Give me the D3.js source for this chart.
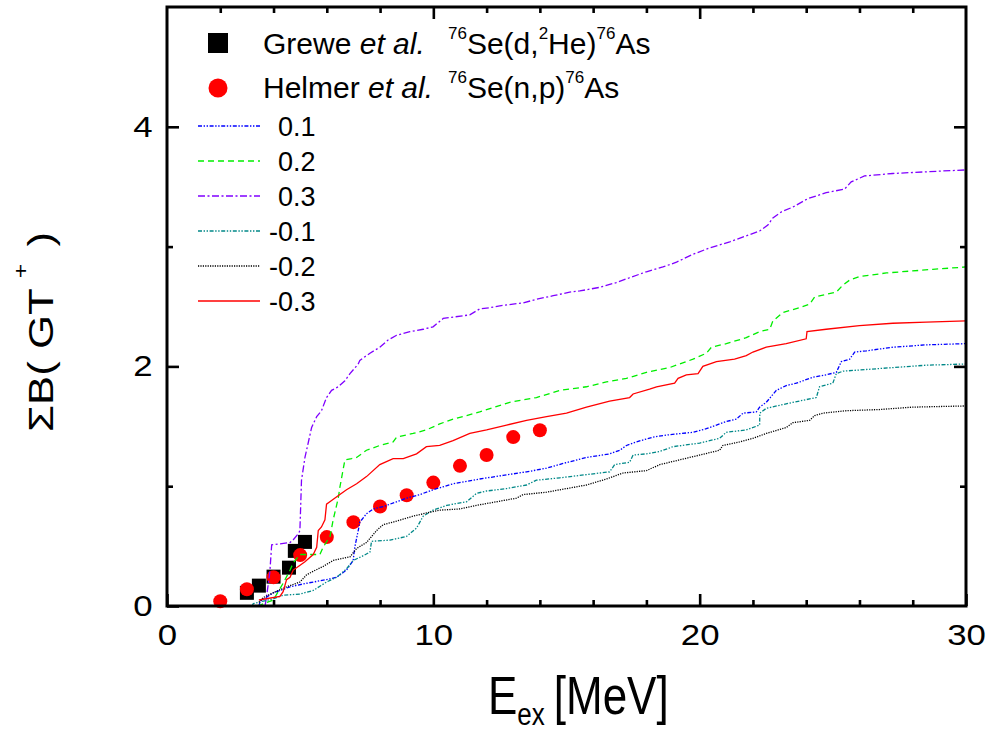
<!DOCTYPE html>
<html>
<head>
<meta charset="utf-8">
<script src="https://cdn.jsdelivr.net/npm/d3@7"></script>
<style>
  body { margin: 0; background: #fff; }
  svg { display: block; }
  text { font-family: "Liberation Sans", Arial, Helvetica, sans-serif; fill: #000; }
</style>
</head>
<body>
<svg id="chart" width="992" height="730"></svg>
<script>
// Measured GT+ strengths: excitation energy (MeV) and cumulative B(GT+)
const greweE  = [3.0, 3.45, 4.0, 4.58, 4.8, 5.18];
const greweB  = [0.11, 0.17, 0.245, 0.32, 0.46, 0.535];
const helmerE = [2, 3, 4, 5, 6, 7, 8, 9, 10, 11, 12, 13, 14];
const helmerB = [0.04, 0.14, 0.24, 0.425, 0.575, 0.70, 0.83, 0.925, 1.03, 1.17, 1.26, 1.41, 1.467];

// Calculated running sums for each deformation value, [E (MeV), sum B(GT+)]
const betaP01 = [[3.45,0],[3.5,0.04],[3.99,0.11],[4.62,0.16],[5.24,0.19],[5.99,0.22],[6.37,0.24],[6.74,0.30],[6.99,0.38],[7.05,0.49],[7.18,0.63],[7.24,0.70],[7.49,0.77],[7.74,0.81],[8.12,0.83],[8.62,0.87],[8.99,0.90],[9.49,0.93],[9.99,0.97],[10.74,1.02],[11.74,1.06],[12.62,1.09],[13.50,1.12],[14.25,1.15],[14.87,1.19],[15.75,1.24],[16.62,1.27],[17.00,1.30],[17.25,1.34],[17.62,1.37],[18.25,1.41],[18.87,1.43],[19.75,1.45],[20.25,1.48],[20.63,1.51],[21.00,1.54],[21.38,1.56],[21.63,1.61],[22.13,1.62],[22.25,1.66],[22.50,1.70],[22.88,1.80],[23.25,1.84],[23.63,1.86],[23.88,1.88],[24.25,1.91],[24.75,1.93],[25.13,1.95],[25.32,2.04],[25.63,2.06],[25.82,2.12],[26.26,2.13],[27.25,2.16],[28.51,2.18],[30,2.19]];
const betaP02 = [[3.40,0],[3.99,0.05],[4.36,0.19],[4.62,0.30],[4.74,0.36],[4.99,0.43],[5.74,0.43],[5.86,0.49],[6.12,0.58],[6.24,0.72],[6.43,0.90],[6.49,0.99],[6.68,1.22],[6.93,1.23],[7.12,1.24],[7.49,1.30],[7.99,1.34],[8.49,1.37],[8.62,1.41],[9.24,1.44],[9.74,1.47],[10.24,1.52],[10.74,1.56],[11.25,1.59],[11.74,1.62],[12.87,1.70],[13.87,1.74],[14.75,1.80],[15.75,1.83],[16.50,1.87],[17.25,1.90],[18.00,1.95],[18.87,1.99],[19.75,2.06],[20.25,2.11],[20.44,2.16],[21.00,2.19],[21.75,2.24],[22.25,2.29],[22.63,2.31],[22.75,2.38],[23.13,2.45],[23.75,2.49],[24.13,2.52],[24.32,2.58],[25.13,2.62],[25.38,2.68],[25.63,2.72],[26.00,2.75],[27.01,2.78],[28.75,2.81],[30,2.83]];
const betaP03 = [[3.68,0],[3.74,0.08],[3.86,0.28],[3.93,0.51],[4.62,0.53],[4.73,0.55],[4.95,0.61],[4.99,0.63],[5.05,1.05],[5.18,1.24],[5.43,1.49],[5.62,1.58],[5.80,1.63],[5.99,1.74],[6.18,1.80],[6.43,1.83],[6.68,1.88],[6.87,1.94],[7.18,2.02],[7.24,2.05],[7.62,2.11],[7.99,2.16],[8.30,2.22],[8.62,2.26],[9.12,2.29],[9.62,2.31],[9.99,2.33],[10.37,2.40],[10.68,2.41],[11.37,2.43],[11.74,2.48],[12.12,2.49],[12.62,2.51],[13.37,2.53],[13.87,2.56],[14.50,2.59],[15.12,2.62],[15.50,2.63],[16.25,2.66],[16.87,2.70],[17.37,2.74],[18.00,2.79],[18.62,2.83],[19.13,2.87],[19.69,2.93],[20.38,2.99],[21.13,3.04],[21.75,3.09],[22.25,3.13],[22.56,3.18],[22.75,3.24],[23.07,3.29],[23.50,3.33],[24.06,3.40],[24.75,3.45],[25.44,3.48],[25.69,3.54],[26.19,3.59],[27.25,3.61],[29.01,3.63],[30,3.64]];
const betaM01 = [[3.2,0],[3.24,0.02],[3.61,0.04],[3.99,0.06],[4.36,0.09],[4.99,0.10],[5.49,0.13],[5.99,0.20],[6.37,0.24],[6.74,0.31],[6.99,0.38],[7.37,0.42],[7.62,0.45],[7.68,0.54],[8.37,0.55],[8.99,0.58],[9.37,0.65],[9.62,0.75],[9.99,0.80],[10.50,0.84],[11.25,0.87],[11.62,0.94],[12.00,0.96],[12.75,0.98],[13.50,1.01],[13.87,1.05],[14.75,1.07],[15.50,1.09],[16.62,1.12],[16.81,1.18],[17.37,1.20],[17.50,1.26],[18.00,1.27],[18.50,1.29],[19.00,1.33],[20.00,1.36],[20.75,1.40],[21.00,1.45],[21.75,1.47],[22.25,1.51],[22.26,1.61],[22.50,1.65],[23.50,1.70],[24.38,1.74],[24.50,1.83],[25.00,1.86],[25.13,1.94],[25.38,1.96],[26.00,1.97],[27.25,1.99],[28.51,2.01],[30,2.02]];
const betaM02 = [[3.45,0.03],[3.61,0.07],[3.99,0.11],[4.49,0.16],[4.99,0.20],[5.24,0.26],[5.49,0.29],[5.86,0.33],[6.24,0.38],[6.87,0.41],[7.12,0.48],[7.49,0.53],[7.87,0.63],[8.12,0.68],[8.49,0.70],[9.24,0.75],[9.62,0.77],[10.24,0.80],[10.99,0.81],[11.62,0.84],[12.37,0.87],[13.12,0.90],[13.37,0.93],[14.25,0.95],[15.00,0.98],[15.75,1.01],[16.50,1.06],[17.12,1.11],[18.00,1.13],[18.50,1.18],[19.25,1.22],[20.00,1.26],[20.75,1.30],[20.87,1.34],[21.50,1.37],[22.00,1.40],[22.50,1.44],[23.25,1.49],[23.50,1.53],[24.13,1.55],[24.32,1.59],[24.63,1.61],[25.50,1.63],[26.75,1.64],[28.00,1.66],[30,1.67]];
const betaM03 = [[3.45,0.05],[4.24,0.08],[4.36,0.12],[4.49,0.22],[4.62,0.24],[4.74,0.30],[4.93,0.33],[5.18,0.37],[5.49,0.43],[5.62,0.49],[5.68,0.63],[5.80,0.66],[5.93,0.72],[5.99,0.85],[6.18,0.88],[6.49,0.93],[6.74,0.97],[7.12,1.02],[7.49,1.08],[7.99,1.18],[8.49,1.23],[8.87,1.23],[9.37,1.27],[9.74,1.33],[10.24,1.34],[10.74,1.38],[11.37,1.44],[12.00,1.47],[12.75,1.51],[13.50,1.55],[14.25,1.58],[15.00,1.61],[15.75,1.66],[16.62,1.71],[17.37,1.74],[17.50,1.77],[18.12,1.81],[18.38,1.83],[19.06,1.86],[19.19,1.90],[19.50,1.93],[19.94,1.94],[20.12,2.00],[20.63,2.04],[21.31,2.06],[21.75,2.09],[22.00,2.12],[22.50,2.16],[23.25,2.19],[24.00,2.23],[24.03,2.29],[24.75,2.31],[26.00,2.34],[27.25,2.36],[28.51,2.37],[30,2.38]];

const betaLabels = ["0.1", "0.2", "0.3", "-0.1", "-0.2", "-0.3"];
const xTickLabels = [0, 10, 20, 30];
const yTickLabels = [0, 2, 4];

// Line styles, in legend order
const curveData = [betaP01, betaP02, betaP03, betaM01, betaM02, betaM03];
const curveStyle = [
  { color: "#0000ff", dash: "4,1.6,1.4,1.6,1.4,1.6" },
  { color: "#00ee00", dash: "6,4" },
  { color: "#8000ff", dash: "7,2.5,2,2.5" },
  { color: "#008888", dash: "4,1.6,1.4,1.6,1.4,1.6" },
  { color: "#000000", dash: "1.2,1.2" },
  { color: "#ff0000", dash: null }
];

const svg = d3.select("#chart");
const L = 167, R = 966, T = 7, B = 606;
const x = d3.scaleLinear().domain([0, 30]).range([L, R]);
const y = d3.scaleLinear().domain([0, 5]).range([B, T]);

svg.append("defs").append("clipPath").attr("id", "plotArea")
  .append("rect").attr("x", L).attr("y", T).attr("width", R - L).attr("height", B - T);

// ---- axes: inward ticks on all four sides ----
function tickAxis(axis, pos, values, size, labels) {
  const g = svg.append("g").attr("transform", pos)
    .call(axis.tickValues(values).tickSizeInner(-size).tickSizeOuter(0)
      .tickFormat(labels ? d3.format("d") : () => ""));
  g.select(".domain").remove();
  g.selectAll(".tick line").attr("stroke", "#000").attr("stroke-width", 2.6);
  return g;
}
const minorX = d3.range(0, 31, 2).filter(v => v % 10 !== 0);
const minorY = [1, 3];

const gx = tickAxis(d3.axisBottom(x).tickPadding(18), `translate(0,${B})`, xTickLabels, 12, true);
tickAxis(d3.axisBottom(x), `translate(0,${B})`, minorX, 6, false);
tickAxis(d3.axisTop(x), `translate(0,${T})`, [10, 20], 12, false);
tickAxis(d3.axisTop(x), `translate(0,${T})`, minorX, 6, false);
const gy = tickAxis(d3.axisLeft(y).tickPadding(12), `translate(${L},0)`, yTickLabels, 12, true);
tickAxis(d3.axisLeft(y), `translate(${L},0)`, minorY, 6, false);
tickAxis(d3.axisRight(y), `translate(${R},0)`, [2, 4], 12, false);
tickAxis(d3.axisRight(y), `translate(${R},0)`, minorY, 6, false);

[gx, gy].forEach(g => g.selectAll(".tick text")
  .attr("font-size", 29).attr("font-family", "Liberation Sans, Arial, sans-serif")
  .attr("fill", "#000").attr("transform", "scale(1.2,1)"));

// ---- measured points ----
svg.append("g").selectAll("rect").data(greweE).join("rect")
  .attr("x", (d, i) => x(d) - 7).attr("y", (d, i) => y(greweB[i]) - 7)
  .attr("width", 14).attr("height", 14).attr("fill", "#000");
svg.append("g").selectAll("circle").data(helmerE).join("circle")
  .attr("cx", d => x(d)).attr("cy", (d, i) => y(helmerB[i])).attr("r", 7)
  .attr("fill", "#ff0000");

// ---- calculated curves ----
const line = d3.line().x(d => x(d[0])).y(d => y(d[1]));
const gLines = svg.append("g").attr("clip-path", "url(#plotArea)");
curveData.forEach((data, i) => {
  gLines.append("path").datum(data).attr("d", line)
    .attr("fill", "none").attr("stroke", curveStyle[i].color)
    .attr("stroke-width", 1.3)
    .attr("stroke-dasharray", curveStyle[i].dash);
});

// ---- frame ----
svg.append("rect").attr("x", L).attr("y", T).attr("width", R - L).attr("height", B - T)
  .attr("fill", "none").attr("stroke", "#000").attr("stroke-width", 3);

// ---- legend ----
const leg = svg.append("g");
leg.append("rect").attr("x", 208).attr("y", 33).attr("width", 20).attr("height", 20).attr("fill", "#000");
leg.append("circle").attr("cx", 218).attr("cy", 88).attr("r", 9.5).attr("fill", "#ff0000");

function reactionLabel(yBase, author, parts) {
  const t = leg.append("text").attr("x", 263).attr("y", yBase).attr("font-size", 30);
  t.append("tspan").text(author + " ");
  t.append("tspan").attr("font-style", "italic").text("et al.");
  let first = true;
  parts.forEach(p => {
    const s = t.append("tspan").text(p.t);
    if (first) { s.attr("x", 448); first = false; }
    if (p.sup) s.attr("font-size", 17).attr("dy", -15);
    else s.attr("dy", 15);
  });
  return t;
}
reactionLabel(53.5, "Grewe", [
  { t: "76", sup: true }, { t: "Se(d," }, { t: "2", sup: true }, { t: "He)" },
  { t: "76", sup: true }, { t: "As" }
]);
reactionLabel(97.5, "Helmer", [
  { t: "76", sup: true }, { t: "Se(n,p)" }, { t: "76", sup: true }, { t: "As" }
]);

betaLabels.forEach((lab, i) => {
  const cy = 126 + i * 35;
  leg.append("line").attr("x1", 198).attr("x2", 260).attr("y1", cy).attr("y2", cy)
    .attr("stroke", curveStyle[i].color).attr("stroke-width", 1.3)
    .attr("stroke-dasharray", curveStyle[i].dash);
  const t = leg.append("text").attr("y", cy + 10).attr("font-size", 27).text(lab);
  let x0 = 278;
  if (lab.startsWith("-")) {
    const m = leg.append("text").attr("font-size", 27).text("-");
    x0 -= m.node().getComputedTextLength();
    m.remove();
  }
  t.attr("x", x0);
});

// ---- axis titles ----
const xt = svg.append("text").attr("transform", "translate(488,714) scale(1,1.2)");
xt.append("tspan").attr("font-size", 44).text("E");
xt.append("tspan").attr("font-size", 26).attr("dy", 9).text("ex");
xt.append("tspan").attr("font-size", 44).attr("dx", 9).attr("dy", -9).text("[MeV]");

const yt = svg.append("text").attr("transform", "translate(53,432) rotate(-90) scale(1.25,1)");
yt.append("tspan").attr("font-size", 35).text("\u03A3B( GT");
yt.append("tspan").attr("font-size", 20).attr("dx", 8).attr("dy", -25).text("+");
yt.append("tspan").attr("font-size", 35).attr("dx", 4).attr("dy", 25).text(" )");
</script>
</body>
</html>
